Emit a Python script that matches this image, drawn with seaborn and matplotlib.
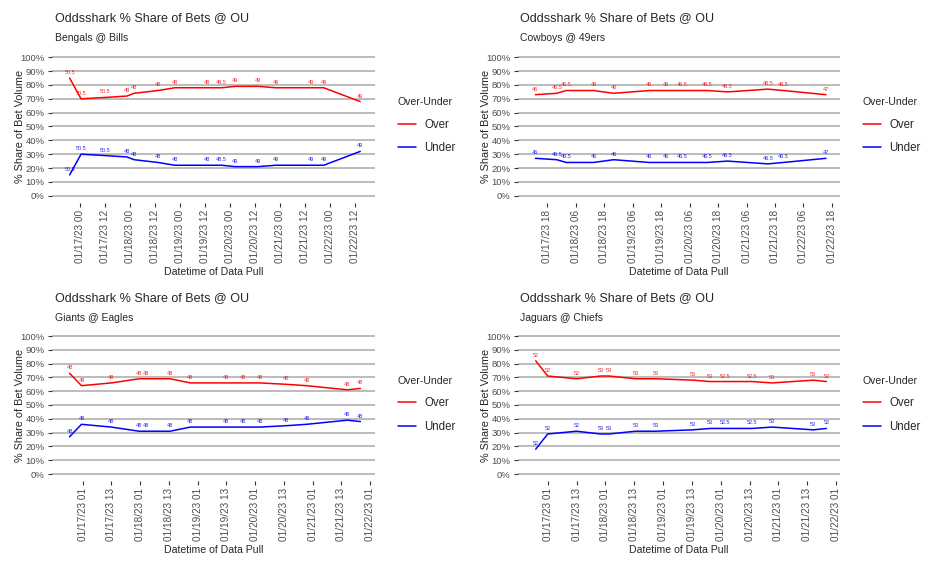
import pandas as pd
import numpy as np
import matplotlib
matplotlib.use("Agg")
import matplotlib.pyplot as plt
import matplotlib.dates as mdates
import seaborn as sns

# ---- data ----
bengals_times = ["2023-01-16 19:00", "2023-01-17 00:30", "2023-01-17 12:00", "2023-01-17 22:30",
                 "2023-01-18 02:00", "2023-01-18 13:30", "2023-01-18 21:30", "2023-01-19 13:00",
                 "2023-01-19 20:00", "2023-01-20 02:30", "2023-01-20 13:30", "2023-01-20 22:00",
                 "2023-01-21 15:00", "2023-01-21 21:00", "2023-01-22 14:30"]
bengals_over = [85, 70, 71, 72, 74, 76, 78, 78, 78, 79, 79, 78, 78, 78, 68]
bengals_under = [15, 30, 29, 28, 26, 24, 22, 22, 22, 21, 21, 22, 22, 22, 32]
bengals_line = ["50.5", "50.5", "50.5", "48", "48", "48", "48", "48", "48.5",
                "49", "49", "49", "49", "49", "49"]

cowboys_times = ["2023-01-17 13:00", "2023-01-17 22:00", "2023-01-18 02:00", "2023-01-18 13:30",
                 "2023-01-18 22:00", "2023-01-19 13:00", "2023-01-19 20:00", "2023-01-20 03:00",
                 "2023-01-20 13:30", "2023-01-20 22:00", "2023-01-21 15:00", "2023-01-21 21:30",
                 "2023-01-22 15:30"]
cowboys_over = [73, 74, 76, 76, 74, 76, 76, 76, 76, 75, 77, 76, 73]
cowboys_under = [27, 26, 24, 24, 26, 24, 24, 24, 24, 25, 23, 24, 27]
cowboys_line = ["46", "46.5", "46.5", "46", "46", "46", "46", "46.5", "46.5",
                "46.5", "46.5", "46.5", "47"]

giants_times = ["2023-01-16 19:30", "2023-01-17 00:30", "2023-01-17 13:00", "2023-01-18 00:30",
                "2023-01-18 03:30", "2023-01-18 13:30", "2023-01-18 22:00", "2023-01-19 13:00",
                "2023-01-19 20:00", "2023-01-20 03:00", "2023-01-20 14:00", "2023-01-20 22:30",
                "2023-01-21 15:30", "2023-01-21 21:00"]
giants_over = [73, 64, 66, 69, 69, 69, 66, 66, 66, 66, 65, 64, 61, 62]
giants_under = [27, 36, 34, 31, 31, 31, 34, 34, 34, 34, 35, 36, 39, 38]
giants_line = ["48"] * 14

jaguars_times = ["2023-01-16 20:00", "2023-01-17 01:00", "2023-01-17 13:00", "2023-01-17 23:00",
                 "2023-01-18 02:30", "2023-01-18 13:30", "2023-01-18 22:00", "2023-01-19 13:30",
                 "2023-01-19 20:30", "2023-01-20 03:00", "2023-01-20 14:00", "2023-01-20 22:30",
                 "2023-01-21 15:30", "2023-01-21 21:00"]
jaguars_over = [82, 71, 69, 71, 71, 69, 69, 68, 67, 67, 67, 66, 68, 67]
jaguars_under = [18, 29, 31, 29, 29, 31, 31, 32, 33, 33, 33, 34, 32, 33]
jaguars_line = ["52", "52", "52", "53", "53", "53", "53", "53", "53",
                "52.5", "52.5", "53", "53", "52"]

games = ["Bengals @ Bills", "Cowboys @ 49ers", "Giants @ Eagles", "Jaguars @ Chiefs"]
tick_first = ["2023-01-17 00:00", "2023-01-17 18:00", "2023-01-17 01:00", "2023-01-17 01:00"]
tick_last = ["2023-01-22 12:00", "2023-01-22 18:00", "2023-01-22 01:00", "2023-01-22 01:00"]
x_limits = [("2023-01-16 10:24", "2023-01-22 21:36"), ("2023-01-17 05:33", "2023-01-22 21:24"),
            ("2023-01-16 12:03", "2023-01-22 03:06"), ("2023-01-16 12:30", "2023-01-22 02:40")]

panels = [(bengals_times, bengals_over, bengals_under, bengals_line),
          (cowboys_times, cowboys_over, cowboys_under, cowboys_line),
          (giants_times, giants_over, giants_under, giants_line),
          (jaguars_times, jaguars_over, jaguars_under, jaguars_line)]

sns.set_theme(style="white")
plt.rcParams['font.family'] = ['Liberation Sans', 'DejaVu Sans']

palette = {"Over": "#FF0000", "Under": "#0000FF"}
W, H = 945, 572
fig = plt.figure(figsize=(W / 100, H / 100), dpi=100)

# axes boxes in pixels: left, right, top, bottom
boxes = [(51.7, 375, 50.4, 202.6), (517.7, 840, 50.4, 202.6),
         (51.7, 375, 329.1, 480.9), (517.7, 840, 329.1, 480.9)]
title_y = [18, 18, 298, 298]
sub_y = [38, 38, 318, 318]
title_x = [55, 520, 55, 520]

for i, (times, over, under, line) in enumerate(panels):
    l, r, t, b = boxes[i]
    ax = fig.add_axes([l / W, 1 - b / H, (r - l) / W, (b - t) / H])
    df = pd.DataFrame({
        "time": pd.to_datetime(times * 2),
        "share": over + under,
        "ou": ["Over"] * len(over) + ["Under"] * len(under),
        "line": line * 2,
    })
    sns.lineplot(data=df, x="time", y="share", hue="ou", palette=palette,
                 linewidth=1.1, ax=ax, legend=True)
    for _, row in df.iterrows():
        ax.text(row["time"], row["share"] + 4, row["line"], color=palette[row["ou"]],
                fontsize=4.0, ha="center", va="center", alpha=0.85)

    ax.set_ylim(-5, 105)
    ax.set_xlim(pd.Timestamp(x_limits[i][0]), pd.Timestamp(x_limits[i][1]))
    ax.set_yticks(np.arange(0, 101, 10))
    ax.set_yticklabels([f"{v}%" for v in range(0, 101, 10)])
    ax.set_xticks(pd.date_range(tick_first[i], tick_last[i], freq="12h"))
    ax.xaxis.set_major_formatter(mdates.DateFormatter("%m/%d/%y %H"))
    ax.tick_params(axis="x", rotation=90)
    ax.tick_params(length=3, width=0.8, color="#333333", labelcolor="#4d4d4d",
                   labelsize=7.2, pad=2, bottom=True, left=True)
    ax.tick_params(axis="y", labelsize=6.8)
    ax.grid(axis="y", color="#b0b0b0", linewidth=1.2)
    ax.grid(axis="x", visible=False)
    for s in ax.spines.values():
        s.set_visible(False)
    ax.set_xlabel("Datetime of Data Pull", fontsize=7.6, labelpad=3)
    ax.set_ylabel("% Share of Bet Volume", fontsize=7.8, labelpad=-3)

    handles, labels = ax.get_legend_handles_labels()
    leg = ax.legend(handles, labels, title="Over-Under", loc="center left",
                    bbox_to_anchor=(1.07, 0.505), frameon=False, fontsize=8.3,
                    title_fontsize=7.6, handlelength=1.6, handletextpad=0.7,
                    labelspacing=1.0, borderpad=0, borderaxespad=0, alignment="left")

    fig.text(title_x[i] / W, 1 - title_y[i] / H, "Oddsshark % Share of Bets @ OU",
             fontsize=9, va="center", ha="left")
    fig.text(title_x[i] / W, 1 - sub_y[i] / H, games[i], fontsize=7.5, va="center", ha="left")

plt.savefig("out.png", dpi=100)
